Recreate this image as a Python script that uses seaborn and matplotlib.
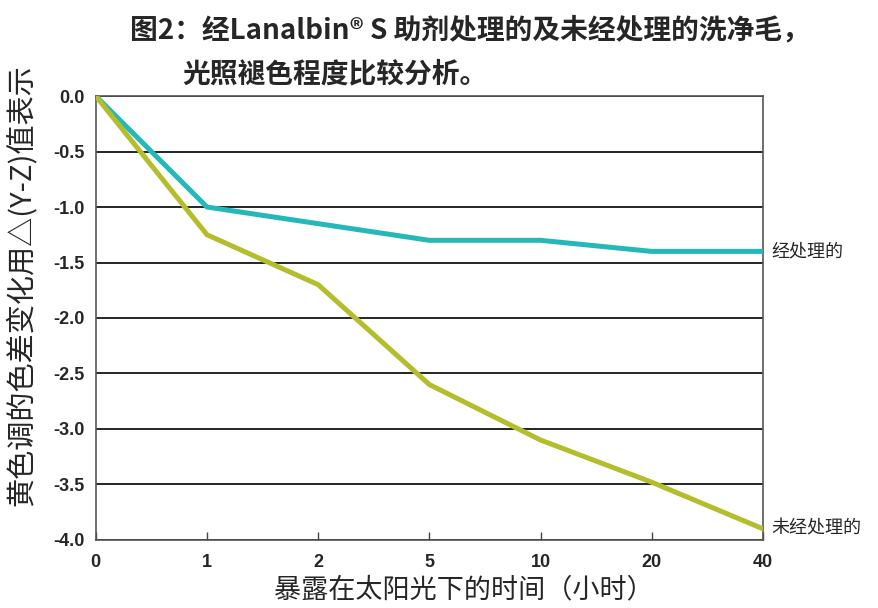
import matplotlib
matplotlib.use("Agg")
import matplotlib.pyplot as plt
import seaborn as sns
import pandas as pd
import numpy as np

hours = ["0", "1", "2", "5", "10", "20", "40"]
treated = [0.0, -1.0, -1.15, -1.3, -1.3, -1.4, -1.4]
untreated = [0.0, -1.25, -1.7, -2.6, -3.1, -3.48, -3.9]
yticks = [0.0, -0.5, -1.0, -1.5, -2.0, -2.5, -3.0, -3.5, -4.0]

sns.set_theme(style="white")
plt.rcParams['font.family'] = ['Noto Sans CJK SC', 'DejaVu Sans']

pos = np.arange(len(hours))
df = pd.DataFrame({
    "pos": np.concatenate([pos, pos]),
    "val": treated + untreated,
    "grp": ["经处理的"] * len(hours) + ["未经处理的"] * len(hours),
})

fig = plt.figure(figsize=(8.79, 6.08), dpi=100)
ax = fig.add_axes([0.109, 0.112, 0.759, 0.730])

for y in yticks:
    ax.axhline(y, color="black", lw=1.2, zorder=1)

sns.lineplot(data=df, x="pos", y="val", hue="grp",
             palette={"经处理的": "#25b8b8", "未经处理的": "#b4be2c"},
             lw=3.6, legend=False, ax=ax, zorder=3)

ax.set_xlim(0, len(hours) - 1)
ax.set_ylim(-4.0, 0.0)
ax.set_xticks(pos)
ax.set_xticklabels(hours, fontfamily="Liberation Sans", fontweight="bold", fontsize=13)
ax.set_yticks(yticks)
ax.set_yticklabels([f"{v:.1f}" for v in yticks], fontfamily="Liberation Sans",
                   fontweight="bold", fontsize=13)
ax.tick_params(axis="x", direction="in", length=6, width=1, color="#444444", pad=10, bottom=True)
ax.tick_params(axis="y", length=0, pad=8)
for s in ax.spines.values():
    s.set_color("#555555")
    s.set_linewidth(1.2)

ax.set_xlabel("暴露在太阳光下的时间（小时）", fontsize=19.5, fontweight="medium")
ax.xaxis.label.set_va("center")
ax.xaxis.set_label_coords(0.552, -0.113)
ax.set_ylabel("黄色调的色差变化用△(Y-Z)值表示", fontsize=21, fontweight="medium")
ax.yaxis.label.set_va("center")
ax.yaxis.set_label_coords(-0.111, 0.574)

ax.text(1.012, treated[-1], "经处理的", transform=ax.get_yaxis_transform(),
        fontsize=13, va="center", ha="left")
ax.text(1.012, untreated[-1], "未经处理的", transform=ax.get_yaxis_transform(),
        fontsize=13, va="center", ha="left")

fig.text(0.148, 0.950, "图2：经Lanalbin® S 助剂处理的及未经处理的洗净毛，",
         fontsize=20, fontweight="bold", ha="left", va="center")
fig.text(0.208, 0.877, "光照褪色程度比较分析。",
         fontsize=20, fontweight="bold", ha="left", va="center")

fig.savefig("out.png", dpi=100)
